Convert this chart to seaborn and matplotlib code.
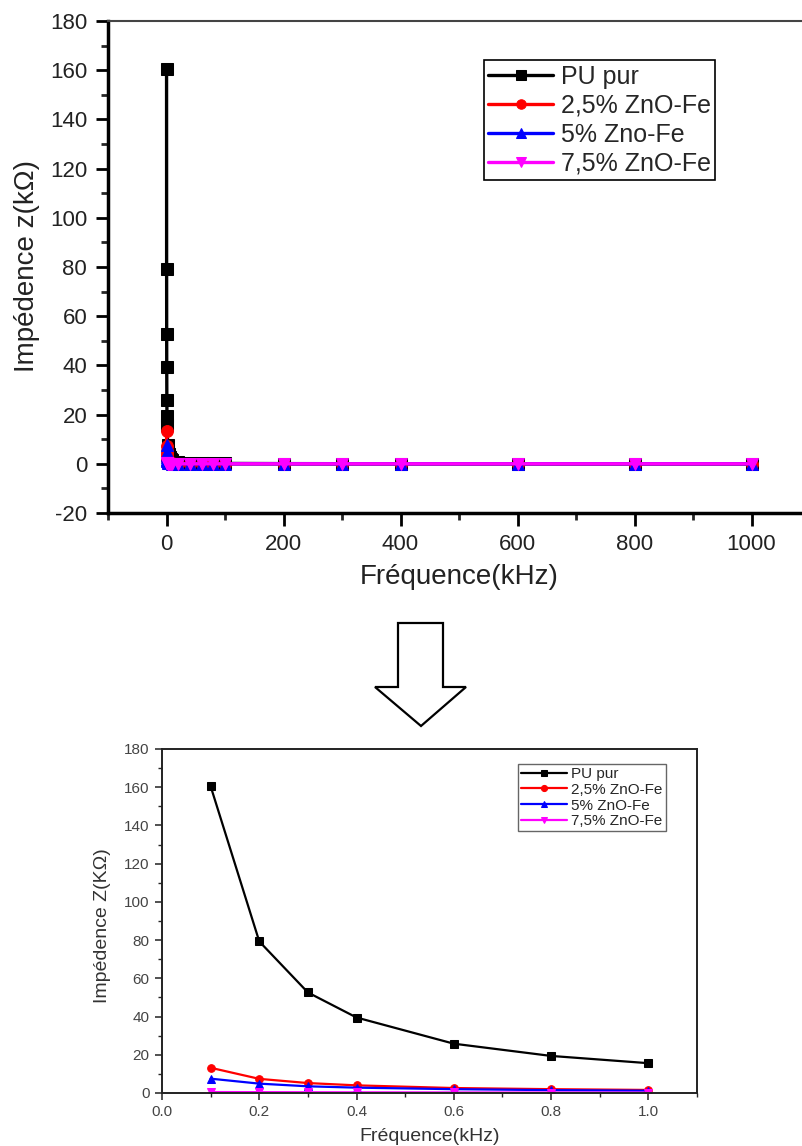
import numpy as np
import pandas as pd
import matplotlib
matplotlib.use("Agg")
import matplotlib.pyplot as plt
from matplotlib.patches import Polygon
from matplotlib.ticker import MultipleLocator, FormatStrFormatter
import seaborn as sns

# ---------------- data ----------------
series_names_top = ["PU pur", "2,5% ZnO-Fe", "5% Zno-Fe", "7,5% ZnO-Fe"]
series_names_bottom = ["PU pur", "2,5% ZnO-Fe", "5% ZnO-Fe", "7,5% ZnO-Fe"]
series_colors = ["#000000", "#ff0000", "#0000ff", "#ff00ff"]
series_markers = ["s", "o", "^", "v"]

freq_full = [0.1, 0.2, 0.3, 0.4, 0.6, 0.8, 1, 2, 3, 4, 6, 8, 10,
             20, 40, 60, 80, 100, 200, 300, 400, 600, 800, 1000]
pu_full = [160.5, 79.3, 52.6, 39.5, 26.0, 19.5, 15.6, 7.8, 5.2, 3.9, 2.6, 1.9, 1.5,
           0.8, 0.4, 0.3, 0.2, 0.15, 0.08, 0.05, 0.04, 0.03, 0.02, 0.015]
zn25_full = [13.2, 7.4, 5.2, 4.0, 2.7, 2.0, 1.6, 0.8, 0.5, 0.4, 0.3, 0.2, 0.15,
             0.08, 0.04, 0.03, 0.02, 0.015, 0.01, 0.01, 0.01, 0.01, 0.01, 0.01]
zn5_full = [7.5, 4.8, 3.5, 2.8, 2.0, 1.5, 1.2, 0.6, 0.4, 0.3, 0.2, 0.15, 0.12,
            0.06, 0.03, 0.02, 0.015, 0.01, 0.01, 0.01, 0.01, 0.01, 0.01, 0.01]
zn75_full = [0.5, 0.45, 0.4, 0.35, 0.3, 0.25, 0.2, 0.1, 0.08, 0.06, 0.04, 0.03, 0.03,
             0.02, 0.01, 0.01, 0.01, 0.01, 0.01, 0.01, 0.01, 0.01, 0.01, 0.01]

freq_low = [0.1, 0.2, 0.3, 0.4, 0.6, 0.8, 1.0]
pu_low = [160.5, 79.3, 52.6, 39.5, 25.8, 19.4, 15.6]
zn25_low = [13.2, 7.4, 5.2, 4.0, 2.6, 2.0, 1.6]
zn5_low = [7.5, 4.9, 3.5, 2.8, 2.0, 1.5, 1.2]
zn75_low = [0.5, 0.45, 0.4, 0.35, 0.3, 0.25, 0.2]

# ---------------- style ----------------
sns.set_style("ticks")
plt.rcParams["font.family"] = ["Liberation Sans", "DejaVu Sans"]
plt.rcParams["axes.unicode_minus"] = False

W, H = 802, 1146
fig = plt.figure(figsize=(W / 100, H / 100), dpi=100)

def frac_rect(left, top, right, bottom):
    return [left / W, 1 - bottom / H, (right - left) / W, (bottom - top) / H]

# ---------------- top axes ----------------
ax1 = fig.add_axes(frac_rect(108, 21, 810, 513))
for name, col, mk, ys in zip(series_names_top, series_colors, series_markers,
                             [pu_full, zn25_full, zn5_full, zn75_full]):
    df = pd.DataFrame({"x": freq_full, "y": ys})
    sns.lineplot(data=df, x="x", y="y", ax=ax1, color=col, marker=mk,
                 markersize=8.5, markeredgecolor=col, linewidth=2.4, label=name)

ax1.set_xlim(-100, 1100)
ax1.set_ylim(-20, 180)
ax1.xaxis.set_major_locator(MultipleLocator(200))
ax1.xaxis.set_minor_locator(MultipleLocator(100))
ax1.yaxis.set_major_locator(MultipleLocator(20))
ax1.yaxis.set_minor_locator(MultipleLocator(10))
ax1.tick_params(which="major", direction="out", length=9, width=2, labelsize=16,
                colors="black", labelcolor="#222222", pad=6)
ax1.tick_params(which="minor", direction="out", length=5, width=2)
ax1.tick_params(top=False, right=False)
for s in ["left", "bottom"]:
    ax1.spines[s].set_linewidth(2.5)
    ax1.spines[s].set_color("black")
ax1.spines["top"].set_linewidth(1.5)
ax1.spines["top"].set_color("#444444")
ax1.spines["right"].set_visible(False)
ax1.set_xlabel("Fréquence(kHz)", fontsize=20, color="#222222")
ax1.set_ylabel("Impédence z(kΩ)", fontsize=20, color="#222222")
ax1.xaxis.set_label_coords((459 - 108) / 702, -(564 - 513) / 492)
ax1.yaxis.set_label_coords(-(108 - 40) / 702, (513 - 266) / 492)
leg1 = ax1.legend(loc="upper left", bbox_to_anchor=(0.535, 0.92), fontsize=18,
                  frameon=True, fancybox=False, edgecolor="black", framealpha=1,
                  handlelength=2.6, handletextpad=0.3, labelspacing=0.2,
                  borderpad=0.18, borderaxespad=0, markerscale=0.8)
leg1.get_frame().set_linewidth(1.2)

# ---------------- bottom axes ----------------
ax2 = fig.add_axes(frac_rect(162, 749, 697, 1093))
for name, col, mk, ys in zip(series_names_bottom, series_colors, series_markers,
                             [pu_low, zn25_low, zn5_low, zn75_low]):
    df = pd.DataFrame({"x": freq_low, "y": ys})
    sns.lineplot(data=df, x="x", y="y", ax=ax2, color=col, marker=mk,
                 markersize=5.5, markeredgecolor=col, linewidth=1.6, label=name)

ax2.set_xlim(0, 1.1)
ax2.set_ylim(0, 180)
ax2.xaxis.set_major_locator(MultipleLocator(0.2))
ax2.xaxis.set_minor_locator(MultipleLocator(0.1))
ax2.yaxis.set_major_locator(MultipleLocator(20))
ax2.yaxis.set_minor_locator(MultipleLocator(10))
ax2.xaxis.set_major_formatter(FormatStrFormatter("%.1f"))
ax2.tick_params(which="major", direction="out", length=5, width=1.2, labelsize=11,
                colors="#333333", labelcolor="#444444", pad=4)
ax2.tick_params(which="minor", direction="out", length=3, width=1.0)
for s in ax2.spines.values():
    s.set_linewidth(1.4)
    s.set_color("#222222")
ax2.set_xlabel("Fréquence(kHz)", fontsize=14, color="#333333", va="top")
ax2.set_ylabel("Impédence Z(KΩ)", fontsize=14, color="#333333")
ax2.xaxis.set_label_coords(0.5, -(1128 - 1093) / 344)
ax2.yaxis.set_label_coords(-(162 - 111) / 535, (1093 - 926) / 344)
leg2 = ax2.legend(loc="upper left", bbox_to_anchor=(0.665, 0.957), fontsize=11,
                  frameon=True, fancybox=False, edgecolor="#666666", framealpha=1,
                  handlelength=3.0, handletextpad=0.3, labelspacing=0.12,
                  borderpad=0.2, borderaxespad=0, markerscale=0.8)
leg2.get_frame().set_linewidth(1.0)

# ---------------- arrow between plots ----------------
arrow_px = [(398, 623), (443, 623), (443, 687), (466, 687), (421, 726),
            (375, 687), (398, 687)]
arrow_fr = [(x / W, 1 - y / H) for x, y in arrow_px]
fig.add_artist(Polygon(arrow_fr, closed=True, fill=False, edgecolor="black",
                       linewidth=1.6, transform=fig.transFigure))

fig.savefig("out.png", dpi=100)
